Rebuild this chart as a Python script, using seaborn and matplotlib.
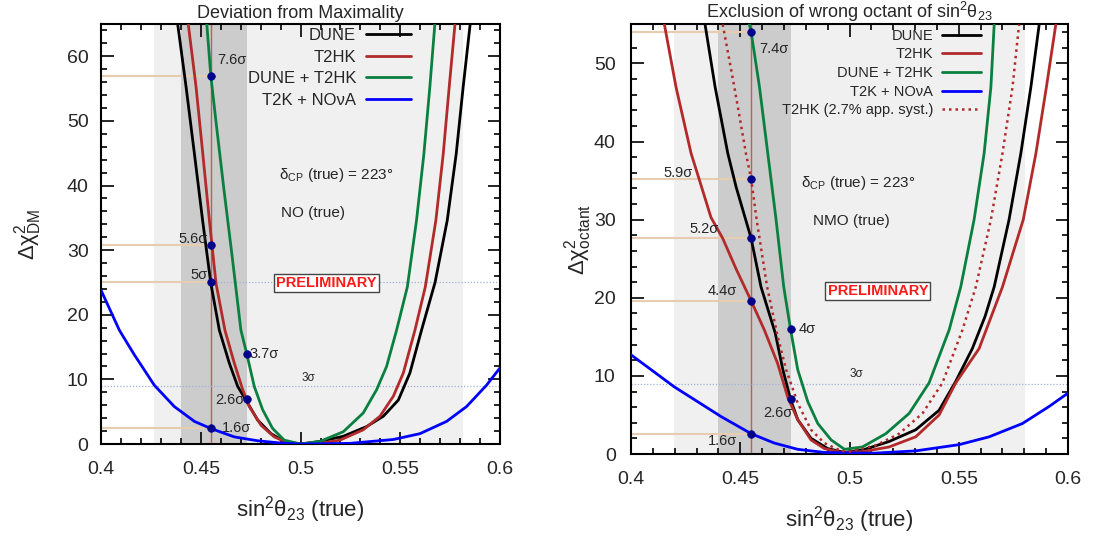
import numpy as np
import pandas as pd
import matplotlib
matplotlib.use("Agg")
import matplotlib.pyplot as plt
from matplotlib.ticker import MultipleLocator, FixedLocator
import seaborn as sns

# ---------------- data: left panel (Deviation from Maximality) ----------------
L_dune_x = [0.4384, 0.4426, 0.4468, 0.4509, 0.455, 0.4593, 0.4643, 0.4685, 0.4726, 0.4785, 0.4852, 0.4918, 0.5,
            0.5097, 0.5214, 0.5331, 0.5415, 0.549, 0.5548, 0.5606, 0.5674, 0.5735, 0.578, 0.5815, 0.585]
L_dune_y = [65, 55.3, 44.9, 34.6, 24.9, 17.6, 12.5, 8.9, 6.8, 3.7, 1.6, 0.4, 0.0,
            0.4, 1.2, 2.7, 4.3, 6.8, 11.0, 17.6, 25.0, 34.6, 44.9, 55.3, 65]
L_t2hk_x = [0.4437, 0.4476, 0.451, 0.4543, 0.4576, 0.4621, 0.4668, 0.471, 0.4743, 0.4802, 0.4868, 0.4935, 0.5,
            0.5097, 0.5197, 0.5314, 0.5398, 0.5465, 0.5515, 0.5573, 0.5625, 0.5678, 0.5715, 0.5745, 0.5774]
L_t2hk_y = [65, 55.3, 44.9, 34.6, 24.9, 17.6, 12.5, 8.4, 5.8, 2.9, 1.1, 0.2, 0.0,
            0.1, 0.6, 2.2, 4.3, 7.4, 11.0, 17.6, 24.3, 34.6, 44.9, 55.3, 65]
L_comb_x = [0.453, 0.455, 0.4576, 0.4615, 0.4656, 0.4701, 0.473, 0.4768, 0.481, 0.486, 0.4918, 0.5,
            0.5097, 0.5214, 0.5314, 0.5381, 0.5431, 0.5481, 0.5535, 0.5581, 0.5618, 0.5648, 0.5673]
L_comb_y = [65, 57, 49.9, 39.6, 29.3, 17.6, 14.0, 8.9, 5.3, 2.4, 0.6, 0.0,
            0.4, 1.9, 4.8, 8.4, 12.0, 17.6, 24.3, 34.6, 44.9, 55.3, 65]
L_nova_x = [0.4, 0.4092, 0.4167, 0.4267, 0.4367, 0.4468, 0.455, 0.4668, 0.4785, 0.490, 0.5,
            0.5247, 0.5465, 0.5598, 0.5732, 0.5832, 0.5932, 0.6]
L_nova_y = [23.8, 17.6, 13.8, 9.1, 5.8, 3.5, 2.4, 1.1, 0.5, 0.15, 0.0,
            0.1, 0.7, 1.6, 3.5, 5.8, 9.1, 11.8]
L_pts_x = [0.455, 0.455, 0.455, 0.455, 0.473, 0.473]
L_pts_y = [57.0, 30.8, 25.0, 2.5, 14.0, 7.0]
L_hlines = [57.0, 30.8, 25.0, 2.5]

# ---------------- data: right panel (wrong octant) ----------------
R_dune_x = [0.4339, 0.4385, 0.4443, 0.4481, 0.455, 0.4595, 0.466, 0.4695, 0.473, 0.4763, 0.4824, 0.49, 0.4977,
            0.5059, 0.5181, 0.5303, 0.541, 0.5486, 0.5562, 0.562, 0.5662, 0.573, 0.5784, 0.583, 0.5868]
R_dune_y = [55, 47, 38.5, 34.2, 27.6, 21.4, 15.5, 10.8, 7.0, 4.4, 2.0, 0.7, 0.2,
            0.5, 1.6, 3.1, 5.6, 9.3, 13.5, 17.6, 21.4, 30, 38.5, 47, 55]
R_t2hk_x = [0.4153, 0.4206, 0.4275, 0.4313, 0.4366, 0.442, 0.4481, 0.455, 0.461, 0.4671, 0.4717, 0.4763,
            0.4824, 0.4885, 0.4961, 0.5059, 0.5181, 0.5303, 0.541, 0.5486, 0.5593, 0.570, 0.5795,
            0.5853, 0.5901, 0.5944]
R_t2hk_y = [55, 47, 38.5, 35.1, 30.3, 27.6, 23.7, 19.6, 15.9, 11.6, 7.3, 4.4,
            1.8, 0.7, 0.2, 0.3, 0.9, 2.2, 5.0, 9.1, 13.5, 21.4, 30,
            38.5, 47, 55]
R_comb_x = [0.4542, 0.455, 0.4588, 0.4626, 0.4664, 0.4699, 0.473, 0.4763, 0.4809, 0.4855, 0.4916, 0.4977,
            0.5059, 0.5166, 0.5273, 0.5364, 0.5456, 0.5509, 0.557, 0.5616, 0.5647, 0.5662]
R_comb_y = [55, 54, 47, 38.5, 30, 21.4, 16, 10.8, 6.7, 3.9, 1.8, 0.6,
            0.9, 2.6, 5.2, 9.1, 15.9, 21.4, 30, 38.5, 47, 55]
R_nova_x = [0.4, 0.4092, 0.4198, 0.4305, 0.4412, 0.455, 0.4656, 0.4763, 0.4885, 0.5,
            0.511, 0.5303, 0.5502, 0.5639, 0.5791, 0.5914, 0.6]
R_nova_y = [12.7, 10.8, 8.6, 6.7, 4.8, 2.6, 1.4, 0.6, 0.2, 0.15,
            0.1, 0.4, 1.2, 2.2, 3.9, 6.1, 7.8]
R_syst_x = [0.442, 0.4473, 0.4526, 0.455, 0.4575, 0.4623, 0.4671, 0.471, 0.4763, 0.4824, 0.4885, 0.4961, 0.5,
            0.512, 0.5227, 0.5334, 0.5425, 0.5517, 0.5578, 0.5647, 0.57, 0.5746, 0.5776]
R_syst_y = [55, 47, 38.5, 35.2, 30, 21.4, 15.1, 10.8, 6.5, 3.1, 1.4, 0.4, 0.3,
            1.1, 2.6, 5.2, 9.1, 15.9, 21.4, 30, 38.5, 47, 55]
R_pts_x = [0.455, 0.455, 0.455, 0.455, 0.455, 0.473, 0.473]
R_pts_y = [54.0, 35.2, 27.6, 19.6, 2.6, 16.0, 7.0]
R_hlines = [54.0, 35.2, 27.6, 19.6, 2.6]

xticks = [0.4, 0.45, 0.5, 0.55, 0.6]
xticklabels = ["0.4", "0.45", "0.5", "0.55", "0.6"]

# ---------------- styling ----------------
sns.set_theme(style="ticks")
plt.rcParams['font.family'] = ['Liberation Sans', 'DejaVu Sans']
plt.rcParams['mathtext.fontset'] = 'custom'
plt.rcParams['mathtext.rm'] = 'Liberation Sans'
plt.rcParams['mathtext.it'] = 'Liberation Sans'
plt.rcParams['mathtext.bf'] = 'Liberation Sans:bold'

C_DUNE = "#000000"
C_T2HK = "#b22a2a"
C_COMB = "#0a8040"
C_NOVA = "#0000ff"
C_DOT = "#00008b"
C_TAN = "#e6cdb0"
C_VLINE = "#b8605c"
C_DOTTED = "#9fb2d6"

fig = plt.figure(figsize=(10.96, 5.43), dpi=100)
axL = fig.add_axes([0.0922, 0.1823, 0.3641, 0.7735])
axR = fig.add_axes([0.5757, 0.1639, 0.3988, 0.7911])


def style_axes(ax, ymax, ystep, ypad):
    ax.set_xlim(0.4, 0.6)
    ax.set_ylim(0, ymax)
    ax.xaxis.set_major_locator(FixedLocator(xticks))
    ax.set_xticklabels(xticklabels)
    ax.xaxis.set_minor_locator(MultipleLocator(0.01))
    ax.yaxis.set_major_locator(MultipleLocator(ystep))
    ax.yaxis.set_minor_locator(MultipleLocator(2))
    ax.tick_params(which='both', direction='in', top=True, right=True, labelsize=14, width=1.2, color='black')
    ax.tick_params(which='major', length=9)
    ax.tick_params(which='minor', length=4.5)
    ax.tick_params(axis='x', which='major', pad=12)
    ax.tick_params(axis='y', which='major', pad=ypad)
    for s in ax.spines.values():
        s.set_linewidth(1.5)
        s.set_color('black')
    ax.set_facecolor('white')


def band(ax, lo_light, hi_light):
    ax.axvspan(lo_light, hi_light, color='#f0f0f0', zorder=0, lw=0)
    ax.axvspan(0.44, 0.473, color='#cccccc', zorder=0.5, lw=0)
    ax.axvline(0.455, color=C_VLINE, lw=1.0, zorder=1)


def curve(ax, x, y, color, label, ls='-', lw=2.0):
    sns.lineplot(x=x, y=y, ax=ax, color=color, lw=lw, ls=ls, label=label,
                 sort=False, estimator=None, zorder=3)


# ---------------- left panel ----------------
band(axL, 0.4265, 0.5813)
for yv in L_hlines:
    axL.hlines(yv, 0.4, 0.455, color=C_TAN, lw=1.5, zorder=1)
axL.hlines(25.0, 0.455, 0.6, color=C_DOTTED, lw=0.9, ls=(0, (1, 1.5)), zorder=1)
axL.hlines(9.0, 0.4, 0.6, color=C_DOTTED, lw=0.9, ls=(0, (1, 1.5)), zorder=1)
curve(axL, L_dune_x, L_dune_y, C_DUNE, "DUNE")
curve(axL, L_t2hk_x, L_t2hk_y, C_T2HK, "T2HK")
curve(axL, L_comb_x, L_comb_y, C_COMB, "DUNE + T2HK")
curve(axL, L_nova_x, L_nova_y, C_NOVA, "T2K + NOνA")
sns.scatterplot(x=L_pts_x, y=L_pts_y, ax=axL, color=C_DOT, s=30, zorder=5, edgecolor=C_DOT, linewidth=0.5, legend=False)
style_axes(axL, 65, 10, 9)
axL.legend(loc='upper right', bbox_to_anchor=(0.777, 0.99), frameon=False, markerfirst=False,
           fontsize=12, handlelength=2.7, handletextpad=0.6, labelspacing=0.39, borderpad=0, borderaxespad=0)

fs_a = 10.5
axL.text(0.4580, 59.4, "7.6σ", fontsize=fs_a, ha='left', va='center')
axL.text(0.4535, 31.8, "5.6σ", fontsize=fs_a, ha='right', va='center')
axL.text(0.4535, 26.2, "5σ", fontsize=fs_a, ha='right', va='center')
axL.text(0.4605, 2.5, "1.6σ", fontsize=fs_a, ha='left', va='center')
axL.text(0.4745, 14.0, "3.7σ", fontsize=fs_a, ha='left', va='center')
axL.text(0.4720, 6.8, "2.6σ", fontsize=fs_a, ha='right', va='center')
axL.text(0.5038, 10.2, "3σ", fontsize=8.5, ha='center', va='center')
axL.text(0.5178, 41.6, "δ$_{\\rm CP}$ (true) = 223°", fontsize=11, ha='center', va='center')
axL.text(0.5063, 35.7, "NO (true)", fontsize=11, ha='center', va='center')
axL.text(0.5130, 24.9, "PRELIMINARY", fontsize=10.5, fontweight='bold', color='#ff1a1a', ha='center', va='center',
         bbox=dict(boxstyle='square,pad=0.15', fc='white', ec='#444444', lw=1.0), zorder=6)
axL.set_title("Deviation from Maximality", fontsize=13, pad=4)
axL.set_xlabel("sin$^{2}$θ$_{23}$ (true)", fontsize=16, labelpad=12)
axL.set_ylabel("Δχ$^{2}_{\\rm DM}$", fontsize=16, labelpad=16)

# ---------------- right panel ----------------
band(axR, 0.4197, 0.5803)
for yv in R_hlines:
    axR.hlines(yv, 0.4, 0.455, color=C_TAN, lw=1.5, zorder=1)
axR.hlines(9.0, 0.4, 0.6, color=C_DOTTED, lw=0.9, ls=(0, (1, 1.5)), zorder=1)
curve(axR, R_dune_x, R_dune_y, C_DUNE, "DUNE")
curve(axR, R_t2hk_x, R_t2hk_y, C_T2HK, "T2HK")
curve(axR, R_comb_x, R_comb_y, C_COMB, "DUNE + T2HK")
curve(axR, R_nova_x, R_nova_y, C_NOVA, "T2K + NOνA")
curve(axR, R_syst_x, R_syst_y, C_T2HK, "T2HK (2.7% app. syst.)", ls=(0, (1, 1.6)), lw=1.8)
sns.scatterplot(x=R_pts_x, y=R_pts_y, ax=axR, color=C_DOT, s=30, zorder=5, edgecolor=C_DOT, linewidth=0.5, legend=False)
style_axes(axR, 55, 10, 11)
axR.legend(loc='upper right', bbox_to_anchor=(0.801, 0.99), frameon=False, markerfirst=False,
           fontsize=10.5, handlelength=2.7, handletextpad=0.6, labelspacing=0.32, borderpad=0, borderaxespad=0)

axR.text(0.4586, 51.9, "7.4σ", fontsize=fs_a, ha='left', va='center')
axR.text(0.4284, 36.0, "5.9σ", fontsize=fs_a, ha='right', va='center')
axR.text(0.4400, 28.8, "5.2σ", fontsize=fs_a, ha='right', va='center')
axR.text(0.4485, 20.9, "4.4σ", fontsize=fs_a, ha='right', va='center')
axR.text(0.4769, 16.0, "4σ", fontsize=fs_a, ha='left', va='center')
axR.text(0.4737, 5.3, "2.6σ", fontsize=fs_a, ha='right', va='center')
axR.text(0.4485, 1.7, "1.6σ", fontsize=fs_a, ha='right', va='center')
axR.text(0.5030, 10.2, "3σ", fontsize=8.5, ha='center', va='center')
axR.text(0.5039, 34.7, "δ$_{\\rm CP}$ (true) = 223°", fontsize=11, ha='center', va='center')
axR.text(0.5007, 29.8, "NMO (true)", fontsize=11, ha='center', va='center')
axR.text(0.5130, 20.9, "PRELIMINARY", fontsize=10.5, fontweight='bold', color='#ff1a1a', ha='center', va='center',
         bbox=dict(boxstyle='square,pad=0.15', fc='white', ec='#444444', lw=1.0), zorder=6)
axR.set_title("Exclusion of wrong octant of sin$^{2}$θ$_{23}$", fontsize=13, pad=4)
axR.set_xlabel("sin$^{2}$θ$_{23}$ (true)", fontsize=16, labelpad=12)
axR.set_ylabel("Δχ$^{2}_{\\rm octant}$", fontsize=16, labelpad=0)

fig.savefig("out.png", dpi=100)
